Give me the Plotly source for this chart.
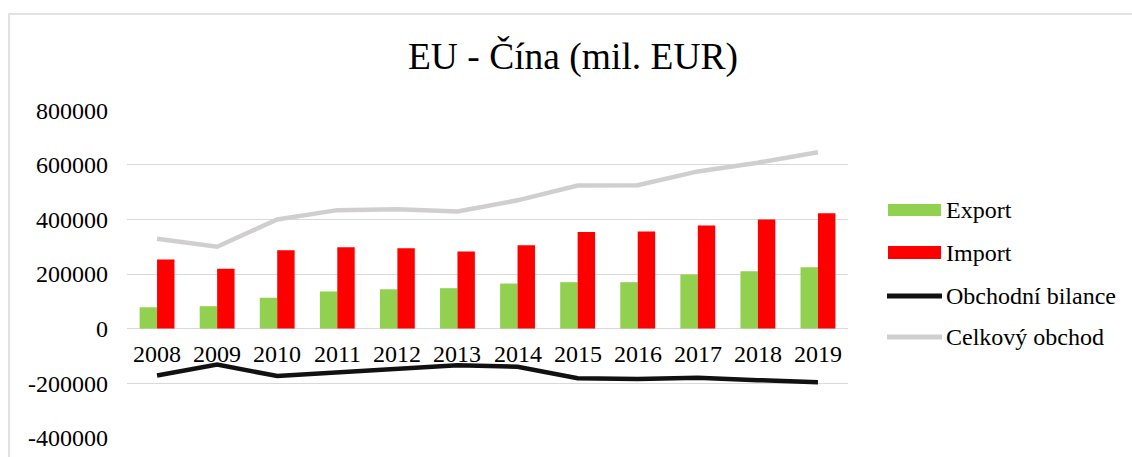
import plotly.graph_objects as go

# ---- data ----
years = ["2008", "2009", "2010", "2011", "2012", "2013", "2014", "2015", "2016", "2017", "2018", "2019"]
export_vals = [78000, 82000, 113000, 136000, 144000, 148000, 165000, 170000, 170000, 198000, 210000, 225000]
import_vals = [253000, 219000, 287000, 298000, 294000, 282000, 305000, 354000, 356000, 378000, 400000, 423000]
balance_vals = [-172000, -132000, -174000, -162000, -150000, -134000, -140000, -182000, -185000, -180000, -189000, -197000]
total_vals = [329000, 300000, 400000, 434000, 437000, 429000, 470000, 524000, 525000, 576000, 608000, 646000]
y_ticks = [-400000, -200000, 0, 200000, 400000, 600000, 800000]
series_names = ["Export", "Import", "Obchodní bilance", "Celkový obchod"]
title_text = "EU - Čína (mil. EUR)"

# ---- styling ----
FONT = "Liberation Serif"
GREEN = "#92D050"
RED = "#FF0000"
BLACK = "#111111"
GRAY = "#D0CECE"
GRID = "#D9D9D9"

W_PX, H_PX = 1132, 457
L, R_EDGE, T, B = 127, 848, 110, 438
PW, PH = R_EDGE - L, B - T


def px_x(p):
    return (p - L) / PW


def px_y(p):
    return (B - p) / PH


fig = go.Figure()
fig.add_trace(go.Bar(x=years, y=export_vals, name=series_names[0], marker=dict(color=GREEN, line=dict(width=0)), showlegend=False))
fig.add_trace(go.Bar(x=years, y=import_vals, name=series_names[1], marker=dict(color=RED, line=dict(width=0)), showlegend=False))
fig.add_trace(go.Scatter(x=years, y=balance_vals, name=series_names[2], mode="lines",
                         line=dict(color=BLACK, width=4.5), showlegend=False))
fig.add_trace(go.Scatter(x=years, y=total_vals, name=series_names[3], mode="lines",
                         line=dict(color=GRAY, width=4.5), showlegend=False))

annotations = []
# category labels sitting just under the zero line (Excel style); x = category serial index
for i, yr in enumerate(years):
    annotations.append(dict(x=i, y=0, xref="x", yref="y", text=yr, showarrow=False,
                            yanchor="top", yshift=-10, font=dict(family=FONT, size=24, color="#000")))

# manual legend (Excel-like wide swatches)
leg_x0, leg_x1, leg_tx = 888, 941, 944
leg_y = [210, 252.5, 296, 337]
shapes = []
shapes.append(dict(type="rect", xref="paper", yref="paper", x0=px_x(leg_x0), x1=px_x(leg_x1),
                   y0=px_y(leg_y[0] + 6), y1=px_y(leg_y[0] - 6), fillcolor=GREEN, line=dict(width=0)))
shapes.append(dict(type="rect", xref="paper", yref="paper", x0=px_x(leg_x0), x1=px_x(leg_x1),
                   y0=px_y(leg_y[1] + 6.5), y1=px_y(leg_y[1] - 6.5), fillcolor=RED, line=dict(width=0)))
shapes.append(dict(type="line", xref="paper", yref="paper", x0=px_x(leg_x0 - 1), x1=px_x(leg_x1 + 1),
                   y0=px_y(leg_y[2]), y1=px_y(leg_y[2]), line=dict(color=BLACK, width=5)))
shapes.append(dict(type="line", xref="paper", yref="paper", x0=px_x(leg_x0 - 1), x1=px_x(leg_x1 + 1),
                   y0=px_y(leg_y[3]), y1=px_y(leg_y[3]), line=dict(color=GRAY, width=5)))
for name, yy in zip(series_names, leg_y):
    annotations.append(dict(x=px_x(leg_tx), y=px_y(yy), xref="paper", yref="paper", text=name,
                            showarrow=False, xanchor="left", yanchor="middle",
                            font=dict(family=FONT, size=24, color="#000")))

# chart border (top-left visible, rest cropped)
shapes.append(dict(type="rect", xref="paper", yref="paper", x0=px_x(9), x1=px_x(1160),
                   y0=px_y(480), y1=px_y(14), line=dict(color=GRID, width=1.5), fillcolor="rgba(0,0,0,0)",
                   layer="below"))

fig.update_layout(
    width=W_PX, height=H_PX, autosize=False,
    margin=dict(l=L, r=W_PX - R_EDGE, t=T, b=H_PX - B, pad=0, autoexpand=False),
    paper_bgcolor="white", plot_bgcolor="white",
    barmode="group", bargap=0.42, bargroupgap=0,
    title=dict(text=title_text, x=573 / W_PX, xanchor="center", y=1 - 56 / H_PX, yanchor="middle",
               xref="container", yref="container",
               font=dict(family=FONT, size=37.5, color="#000")),
    font=dict(family=FONT, size=24, color="#000"),
    xaxis=dict(type="category", range=[-0.5, len(years) - 0.5], showticklabels=False, showgrid=False,
               showline=False, zeroline=False, ticks="", automargin=False),
    yaxis=dict(range=[-401000, 801000], tickvals=y_ticks, ticktext=[str(v) for v in y_ticks],
               showgrid=True, gridcolor=GRID, gridwidth=1.3, zeroline=True, zerolinecolor=GRID,
               zerolinewidth=1.3, showline=False, ticks="", ticklabelstandoff=18, automargin=False,
               tickfont=dict(family=FONT, size=24, color="#000")),
    shapes=shapes, annotations=annotations,
    showlegend=False,
)

fig.write_html("out.html", config={"displayModeBar": False, "responsive": False},
               post_script="document.body.style.margin='0';document.body.style.overflow='hidden';")
